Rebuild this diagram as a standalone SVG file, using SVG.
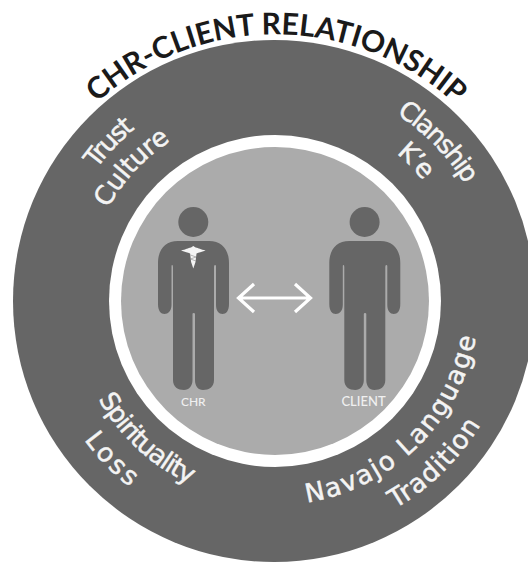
<svg xmlns="http://www.w3.org/2000/svg" width="528" height="562" viewBox="0 0 528 562">
<style>
.t{font-family:"DejaVu Sans","Liberation Sans",sans-serif;font-weight:400;fill:#f4f4f4;font-size:26px;stroke:#f4f4f4;stroke-width:.5px}
.title{font-family:"Lato","Liberation Sans",sans-serif;font-weight:700;fill:#1a1a1a;font-size:30px}
.lab{font-family:"Lato","Liberation Sans",sans-serif;font-weight:500;fill:#f0f0f0;text-anchor:middle}
.fig{fill:#666}
</style>
<defs>
<path id="pTitle" d="M97 102.5A267 267 0 0 1 455.4 104.2"/>
<path id="pTrust" d="M96.5 169A222 222 0 0 1 135.3 128.5"/>
<path id="pCulture" d="M107.9 208.4A191 191 0 0 1 170.9 140.8"/>
<path id="pClan" d="M396.5 114A223 223 0 0 1 465.2 184.6"/>
<path id="pKe" d="M396.5 153.5A191 191 0 0 1 423.4 180.9"/>
<path id="pSpirit" d="M98.3 399A202 202 0 0 0 189.6 484"/>
<path id="pLoss" d="M84 439.8A236 236 0 0 0 129.7 487"/>
<path id="pNav" d="M306.9 502.5A204 204 0 0 0 476 336.5"/>
<path id="pTrad" d="M395 508.8A240 240 0 0 0 480.7 424.6"/>
<path id="person" d="M178 241H209C222 241 229 250 229 263V304C229 311 226 314 222.5 314C219 314 216 311 216 305V266Q216 265 215 265Q214 265 214 267V380C214 387 209 390 203 390C198 390 195 386 195 380V314Q195 313 193.7 313Q192.5 313 192.5 314V380C192.5 386 189 390 184 390C178 390 173 387 173 380V267Q173 265 172.2 265Q171.5 265 171.5 266V305C171.5 311 168 314 164.5 314C161 314 158 311 158 304V263C158 250 165 241 178 241Z"/>
</defs>
<rect width="528" height="562" fill="#fff"/>
<g id="rings">
<circle cx="274" cy="301" r="261" fill="#666"/>
<circle cx="275" cy="301" r="166" fill="#fff"/>
<circle cx="275" cy="301" r="154" fill="#ababab"/>
</g>
<g id="title"><text class="title"><textPath href="#pTitle" textLength="393" lengthAdjust="spacing">CHR-CLIENT RELATIONSHIP</textPath></text></g>
<g id="labels-upper-left">
<text class="t"><textPath href="#pTrust" textLength="56">Trust</textPath></text>
<text class="t"><textPath href="#pCulture" textLength="93">Culture</textPath></text>
</g>
<g id="labels-upper-right">
<text class="t"><textPath href="#pClan" textLength="99">Clanship</textPath></text>
<text class="t"><textPath href="#pKe" textLength="38">K’e</textPath></text>
</g>
<g id="labels-lower-left">
<text class="t"><textPath href="#pSpirit" textLength="127">Spirituality</textPath></text>
<text class="t"><textPath href="#pLoss" textLength="66">Loss</textPath></text>
</g>
<g id="labels-lower-right">
<text class="t"><textPath href="#pNav" textLength="252">Navajo Language</textPath></text>
<text class="t"><textPath href="#pTrad" textLength="121">Tradition</textPath></text>
</g>
<g id="chr">
<circle class="fig" cx="193.3" cy="222" r="15"/>
<use href="#person" class="fig"/>
<path fill="#f4f4f4" d="M181 250.5C186 249.5 188 248 191 247.5L193.3 246L195.6 247.5C198.6 248 200.6 249.5 205.6 250.5C201 252 199 252.5 196.5 253.5L195.5 262L193.3 268.5L191.1 262L190.1 253.5C187.6 252.5 185.6 252 181 250.5Z"/>
<path fill="none" stroke="#888" stroke-width=".6" d="M190.5 255L196 257M190.5 259L196 257M190.5 259L196 261"/>
<text class="lab" x="193.3" y="406" font-size="12">CHR</text>
</g>
<g id="client">
<circle class="fig" cx="364.6" cy="222" r="15"/>
<use href="#person" class="fig" x="171.3"/>
<text class="lab" x="363.5" y="406" font-size="13">CLIENT</text>
</g>
<g id="connectors">
<path fill="none" stroke="#fff" stroke-width="3.2" d="M238 298H310M254 284L238.5 298L254 312M295 284L310.5 298L295 312"/>
</g>
</svg>
